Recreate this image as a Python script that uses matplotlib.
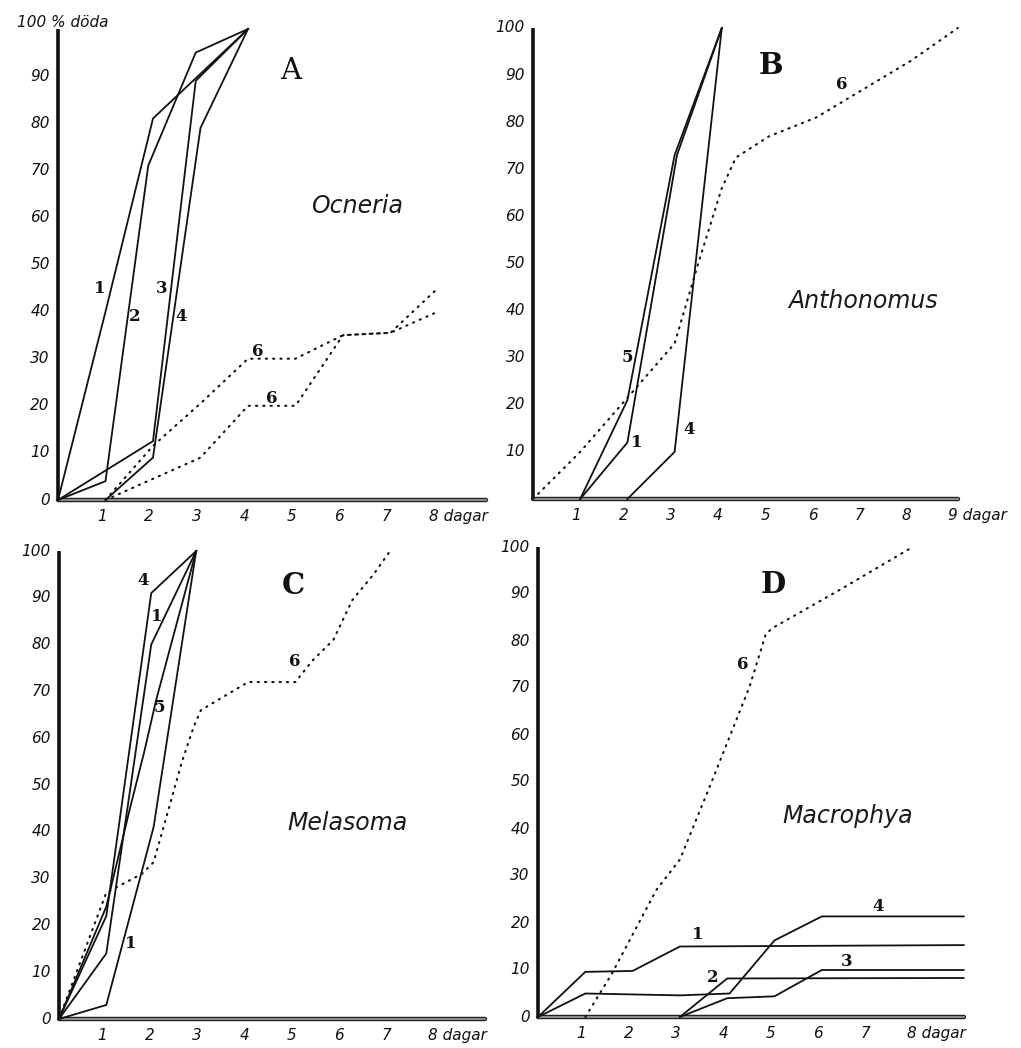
import matplotlib
matplotlib.use('Agg')
import matplotlib.pyplot as plt

W, H = 1021, 1048

# ---- panel A: Ocneria ----
a1_x = [0, 1, 2, 4]
a1_y = [0, 40, 81, 100]
a2_x = [0, 1, 1.9, 2.9, 4]
a2_y = [0, 4, 71, 95, 100]
a3_x = [0, 2, 2.9, 4]
a3_y = [0, 12.5, 89, 100]
a4_x = [1, 2, 3, 4]
a4_y = [0, 9, 79, 100]
a6a_x = [1, 2, 3, 4, 5, 6, 7, 8]
a6a_y = [0, 11.5, 20.5, 30, 30, 35, 35.5, 45]
a6b_x = [1, 2, 3, 4, 5, 6, 7, 8]
a6b_y = [0, 4.5, 9, 20, 20, 35, 35.5, 40]

# ---- panel B: Anthonomus ----
b5_x = [1, 2, 3, 4]
b5_y = [0, 21, 73, 100]
b1_x = [1, 2, 3.05, 4]
b1_y = [0, 12, 73, 100]
b4_x = [2, 3, 4]
b4_y = [0, 10, 100]
b6_x = [0, 1, 2, 3, 3.5, 4, 4.3, 5, 6, 7, 8, 9]
b6_y = [0, 10, 21.5, 33, 50, 66, 72.5, 77, 81, 87, 93, 100]

# ---- panel C: Melasoma ----
c1lo_x = [0, 1, 2, 2.9]
c1lo_y = [0, 3, 41, 100]
c1up_x = [0, 1, 1.95, 2.9]
c1up_y = [0, 14, 80, 100]
c4_x = [0, 1, 1.95, 2.9]
c4_y = [0, 22, 91, 100]
c5_x = [0, 1, 1.5, 1.8, 2.05, 2.9]
c5_y = [0, 24, 45, 57, 68, 100]
c6_x = [0, 1, 1.75, 2, 2.35, 2.6, 2.85, 3, 4, 5, 5.35, 5.8, 6.2, 6.65, 7]
c6_y = [0, 27, 31, 33.5, 46, 55, 62.5, 66, 72, 72, 76.5, 81, 89.5, 95, 100]

# ---- panel D: Macrophya ----
d1_x = [0, 1, 2, 3, 9]
d1_y = [0, 9.6, 9.8, 15, 15.3]
d4_x = [0, 1, 3, 4.05, 5, 6, 9]
d4_y = [0, 5, 4.6, 5, 16.3, 21.4, 21.4]
d2_x = [3, 4, 9]
d2_y = [0, 8.2, 8.3]
d3_x = [3, 4, 5, 6, 9]
d3_y = [0, 4, 4.4, 10, 10]
d6_x = [1, 1.55, 2.5, 3, 3.63, 4.05, 4.47, 4.82, 5.0, 6.4, 7.92]
d6_y = [0, 9, 27, 33.5, 49, 59.6, 70.2, 81.6, 83, 91, 100]

y_ticks = [0, 10, 20, 30, 40, 50, 60, 70, 80, 90, 100]
x_ticks = [1, 2, 3, 4, 5, 6, 7, 8, 9]

TICK_FONT = dict(family='DejaVu Sans', style='italic', fontsize=11, color='#111')
NUM_FONT = dict(family='DejaVu Serif', fontweight='bold', fontsize=12, color='#111')
NAME_FONT = dict(family='DejaVu Sans', style='italic', fontsize=17, color='#1a1a1a')


def make_panel(fig, ox, oy, dx, top):
    # pixel origin, pixel per day, pixel of the 100 % mark
    ax = fig.add_axes([ox / W, 1 - oy / H, 9 * dx / W, (oy - top) / H])
    ax.set_xlim(0, 9)
    ax.set_ylim(0, 100)
    ax.axis('off')
    # hand drawn axes: thick left line, grey bottom bar
    ax.plot([0, 0], [0, 100], color='#111', lw=2.6, solid_capstyle='butt', clip_on=False)
    ax.plot([0, 9], [0, 0], color='#222', lw=3.2, solid_capstyle='round', clip_on=False)
    ax.plot([0, 9], [0, 0], color='#aaa', lw=1.1, clip_on=False)
    return ax


def solid(ax, x, y):
    ax.plot(x, y, color='#111', lw=1.3, clip_on=False, solid_joinstyle='miter')


def dotted(ax, x, y):
    ax.plot(x, y, color='#111', lw=1.5, linestyle=(0, (0.6, 2.9)),
            dash_capstyle='round', clip_on=False)


def ticks(ax, yvals, last_x, skip_zero=False):
    for v in yvals:
        if skip_zero and v == 0:
            continue
        ax.text(-0.17, v, str(v), ha='right', va='center', clip_on=False, **TICK_FONT)
    for d in x_ticks:
        if d < last_x:
            ax.text(d - 0.08, -3.6, str(d), ha='center', va='center', **TICK_FONT)
        elif d == last_x:
            ax.text(d - 0.2, -3.6, f'{d} dagar', ha='left', va='center', **TICK_FONT)


fig = plt.figure(figsize=(W / 100, H / 100), dpi=100)
fig.patch.set_facecolor('white')

# A
ax = make_panel(fig, 58, 500, 47.5, 29)
for x, y in [(a1_x, a1_y), (a2_x, a2_y), (a3_x, a3_y), (a4_x, a4_y)]:
    solid(ax, x, y)
dotted(ax, a6a_x, a6a_y)
dotted(ax, a6b_x, a6b_y)
ticks(ax, y_ticks[:-1], 8)
ax.text(-0.86, 101.3, '100 % döda', ha='left', va='center', **TICK_FONT)
for lab, x, y in [('1', 0.88, 45), ('2', 1.62, 39), ('3', 2.19, 45), ('4', 2.6, 39),
                  ('6', 4.2, 31.5), ('6', 4.5, 21.6)]:
    ax.text(x, y, lab, ha='center', va='center', **NUM_FONT)
ax.text(4.9, 91, 'A', ha='center', va='center', family='DejaVu Serif', fontsize=21, color='#111')
ax.text(6.3, 62.5, 'Ocneria', ha='center', va='center', **NAME_FONT)

# B
ax = make_panel(fig, 533, 499, 47.2, 28)
for x, y in [(b5_x, b5_y), (b1_x, b1_y), (b4_x, b4_y)]:
    solid(ax, x, y)
dotted(ax, b6_x, b6_y)
ticks(ax, y_ticks, 9, skip_zero=True)
for lab, x, y in [('5', 2.0, 30), ('1', 2.2, 12), ('4', 3.3, 14.7), ('6', 6.55, 88)]:
    ax.text(x, y, lab, ha='center', va='center', **NUM_FONT)
ax.text(5.05, 92, 'B', ha='center', va='center', family='DejaVu Serif', fontweight='bold',
        fontsize=21, color='#111')
ax.text(7.0, 42, 'Anthonomus', ha='center', va='center', **NAME_FONT)

# C
ax = make_panel(fig, 59, 1019, 47.3, 551)
for x, y in [(c1lo_x, c1lo_y), (c1up_x, c1up_y), (c4_x, c4_y), (c5_x, c5_y)]:
    solid(ax, x, y)
dotted(ax, c6_x, c6_y)
ticks(ax, y_ticks, 8)
for lab, x, y in [('4', 1.78, 93.8), ('1', 2.07, 86), ('5', 2.12, 66.5), ('1', 1.52, 16.2),
                  ('6', 4.99, 76.4)]:
    ax.text(x, y, lab, ha='center', va='center', **NUM_FONT)
ax.text(4.95, 92.7, 'C', ha='center', va='center', family='DejaVu Serif', fontweight='bold',
        fontsize=21, color='#111')
ax.text(6.1, 41.9, 'Melasoma', ha='center', va='center', **NAME_FONT)

# D
ax = make_panel(fig, 538, 1017, 47.3, 547)
for x, y in [(d1_x, d1_y), (d4_x, d4_y), (d2_x, d2_y), (d3_x, d3_y)]:
    solid(ax, x, y)
dotted(ax, d6_x, d6_y)
ticks(ax, y_ticks, 8)
for lab, x, y in [('1', 3.38, 17.5), ('2', 3.7, 8.5), ('3', 6.53, 11.9), ('4', 7.2, 23.6),
                  ('6', 4.33, 75)]:
    ax.text(x, y, lab, ha='center', va='center', **NUM_FONT)
ax.text(4.97, 92, 'D', ha='center', va='center', family='DejaVu Serif', fontweight='bold',
        fontsize=21, color='#111')
ax.text(6.55, 42.8, 'Macrophya', ha='center', va='center', **NAME_FONT)

fig.savefig('out.png', dpi=100, facecolor='white')
